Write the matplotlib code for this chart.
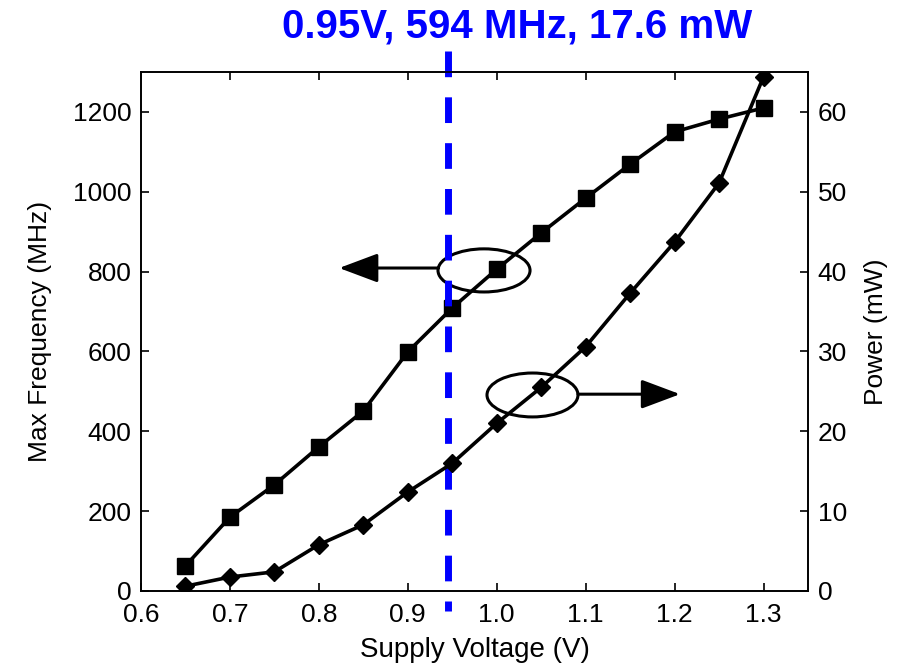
import matplotlib
matplotlib.use("Agg")
import matplotlib.pyplot as plt
from matplotlib.patches import Ellipse, FancyArrowPatch

plt.rcParams['font.family'] = ['Liberation Sans', 'DejaVu Sans']

voltage = [0.65, 0.70, 0.75, 0.80, 0.85, 0.90, 0.95, 1.00, 1.05, 1.10, 1.15, 1.20, 1.25, 1.30]
max_freq_mhz = [63, 185, 266, 361, 451, 599, 709, 806, 897, 984, 1069, 1150, 1182, 1210]
power_mw = [0.6, 1.75, 2.4, 5.8, 8.3, 12.4, 16.0, 21.0, 25.5, 30.6, 37.3, 43.7, 51.1, 64.4]

x_ticks = [0.6, 0.7, 0.8, 0.9, 1.0, 1.1, 1.2, 1.3]
x_ticklabels = ['0.6', '0.7', '0.8', '0.9', '1.0', '1.1', '1.2', '1.3']
freq_ticks = [0, 200, 400, 600, 800, 1000, 1200]
power_ticks = [0, 10, 20, 30, 40, 50, 60]

marker_v = 0.945
annotation_text = '0.95V, 594 MHz, 17.6 mW'

fig = plt.figure(figsize=(9.02, 6.69), dpi=100)
ax = fig.add_axes([141/902, 1-591/669, (808-141)/902, (591-72)/669])
ax2 = ax.twinx()

ax.set_xlim(0.6, 1.35)
ax.set_ylim(0, 1300)
ax2.set_ylim(0, 65)

ax.plot(voltage, max_freq_mhz, color='black', lw=2.6, marker='s', ms=11, zorder=3)
ax2.plot(voltage, power_mw, color='black', lw=2.6, marker='D', ms=9, zorder=3)

for a in (ax, ax2):
    for s in a.spines.values():
        s.set_linewidth(1.2)

ax.set_xticks(x_ticks)
ax.set_xticklabels(x_ticklabels)
ax.set_yticks(freq_ticks)
ax2.set_yticks(power_ticks)
ax.tick_params(axis='x', direction='in', length=6, width=1.2, top=True, labelsize=19, pad=9)
ax.tick_params(axis='y', direction='in', length=6, width=1.2, labelsize=19, pad=7)
ax2.tick_params(axis='y', direction='in', length=6, width=1.2, labelsize=19, pad=7)

ax.set_xlabel('Supply Voltage (V)', fontsize=20, labelpad=7)
ax.set_ylabel('Max Frequency (MHz)', fontsize=19, labelpad=15)
ax2.set_ylabel('Power (mW)', fontsize=19, labelpad=12)

# ellipses and arrows
e1 = Ellipse((0.9857, 803), 0.1035, 108, fill=False, lw=2.2, ec='black', zorder=4)
e2 = Ellipse((1.0402, 491), 0.1023, 110, fill=False, lw=2.2, ec='black', zorder=4)
ax.add_patch(e1)
ax.add_patch(e2)
a1 = FancyArrowPatch((0.9346, 809), (0.8228, 809), arrowstyle='-|>,head_length=1.2,head_width=0.45',
                     mutation_scale=20, lw=2.2, color='black', shrinkA=0, shrinkB=0, zorder=4)
a2 = FancyArrowPatch((1.0914, 493), (1.2061, 493), arrowstyle='-|>,head_length=1.2,head_width=0.45',
                     mutation_scale=20, lw=2.2, color='black', shrinkA=0, shrinkB=0, zorder=4)
ax.add_patch(a1)
ax.add_patch(a2)

# dashed marker line
ax.plot([marker_v, marker_v], [1353, -50], color='#0000ff', lw=5, dashes=(3.7, 2.9),
        solid_capstyle='butt', dash_capstyle='butt', clip_on=False, zorder=5)

fig.text(517/902, 1-26/669, annotation_text, color='#0000ff', fontsize=29, fontweight='bold',
         ha='center', va='center')

fig.savefig('out.png', dpi=100)
